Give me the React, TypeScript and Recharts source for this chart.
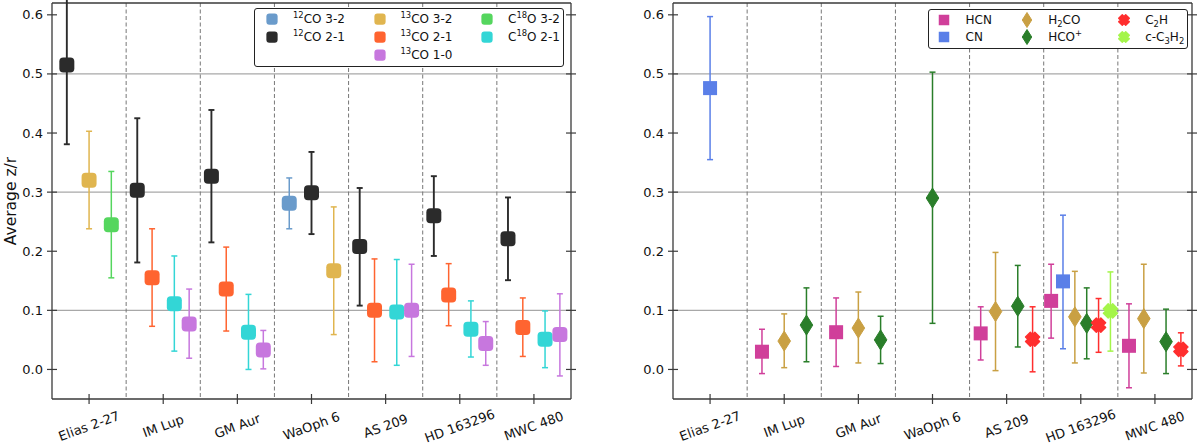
import React from "react";
import {
  ComposedChart,
  Scatter,
  ErrorBar,
  XAxis,
  YAxis,
  CartesianGrid,
  ReferenceLine,
  Legend,
} from "recharts";

const SOURCES = ["Elias 2-27", "IM Lup", "GM Aur", "WaOph 6", "AS 209", "HD 163296", "MWC 480"];
const X_TICKS = [0, 1, 2, 3, 4, 5, 6];
const Y_TICKS = [0, 0.1, 0.2, 0.3, 0.4, 0.5, 0.6];
const GRID_Y = [0.1, 0.3, 0.5];
const DIVIDERS = [0.5, 1.5, 2.5, 3.5, 4.5, 5.5];

type V = (number | null)[];

// CO isotopologues (value, lower end, upper end of error bar)
const co12_32: V = [null, null, null, 0.281, null, null, null];
const co12_32Lo: V = [null, null, null, 0.238, null, null, null];
const co12_32Hi: V = [null, null, null, 0.324, null, null, null];

const co12_21: V = [0.515, 0.303, 0.327, 0.299, 0.208, 0.26, 0.221];
const co12_21Lo: V = [0.381, 0.181, 0.215, 0.229, 0.108, 0.192, 0.151];
const co12_21Hi: V = [0.65, 0.425, 0.439, 0.368, 0.307, 0.327, 0.291];

const co13_32: V = [0.32, null, null, 0.167, null, null, null];
const co13_32Lo: V = [0.238, null, null, 0.059, null, null, null];
const co13_32Hi: V = [0.403, null, null, 0.275, null, null, null];

const co13_21: V = [null, 0.155, 0.136, null, 0.1, 0.126, 0.071];
const co13_21Lo: V = [null, 0.073, 0.065, null, 0.013, 0.074, 0.022];
const co13_21Hi: V = [null, 0.238, 0.207, null, 0.187, 0.179, 0.121];

const co13_10: V = [null, 0.077, 0.033, null, 0.1, 0.044, 0.059];
const co13_10Lo: V = [null, 0.019, 0.001, null, 0.022, 0.007, -0.011];
const co13_10Hi: V = [null, 0.136, 0.066, null, 0.178, 0.081, 0.128];

const c18o_32: V = [0.245, null, null, null, null, null, null];
const c18o_32Lo: V = [0.155, null, null, null, null, null, null];
const c18o_32Hi: V = [0.335, null, null, null, null, null, null];

const c18o_21: V = [null, 0.111, 0.063, null, 0.097, 0.068, 0.051];
const c18o_21Lo: V = [null, 0.031, 0.0, null, 0.007, 0.021, 0.003];
const c18o_21Hi: V = [null, 0.192, 0.127, null, 0.186, 0.116, 0.099];

// other molecules
const hcn: V = [null, 0.03, 0.063, null, 0.061, 0.116, 0.04];
const hcnLo: V = [null, -0.007, 0.005, null, 0.016, 0.053, -0.031];
const hcnHi: V = [null, 0.068, 0.121, null, 0.106, 0.178, 0.111];

const cn: V = [0.476, null, null, null, null, 0.149, null];
const cnLo: V = [0.355, null, null, null, null, 0.035, null];
const cnHi: V = [0.597, null, null, null, null, 0.261, null];

const h2co: V = [null, 0.048, 0.07, null, 0.098, 0.089, 0.086];
const h2coLo: V = [null, 0.003, 0.011, null, -0.002, 0.011, -0.006];
const h2coHi: V = [null, 0.094, 0.131, null, 0.198, 0.166, 0.178];

const hcop: V = [null, 0.075, 0.05, 0.29, 0.107, 0.078, 0.047];
const hcopLo: V = [null, 0.013, 0.01, 0.078, 0.038, 0.018, -0.007];
const hcopHi: V = [null, 0.138, 0.09, 0.503, 0.176, 0.138, 0.102];

const c2h: V = [null, null, null, null, 0.051, 0.075, 0.034];
const c2hLo: V = [null, null, null, null, -0.004, 0.029, 0.006];
const c2hHi: V = [null, null, null, null, 0.106, 0.12, 0.062];

const c3h2: V = [null, null, null, null, null, 0.099, null];
const c3h2Lo: V = [null, null, null, null, null, 0.031, null];
const c3h2Hi: V = [null, null, null, null, null, 0.165, null];

// side-by-side spread of the points inside one source
const DODGE: Record<number, number[]> = {
  1: [0],
  2: [-0.15, 0.15],
  3: [-0.3, 0, 0.3],
  4: [-0.35, -0.15, 0.15, 0.35],
  6: [-0.4, -0.24, -0.08, 0.08, 0.24, 0.4],
};

const AXIS = "#3a3a3a";
const FONT = "'DejaVu Sans', sans-serif";

type Shape = "round" | "square" | "diamond" | "cross";
type Series = {
  key: string;
  label: React.ReactNode;
  color: string;
  shape: Shape;
  val: V;
  lo: V;
  hi: V;
  col: number;
  row: number;
  lw?: number;
};

const sup = (t: string) => <sup style={{ fontSize: "0.7em", lineHeight: 0 }}>{t}</sup>;
const sub = (t: string) => <sub style={{ fontSize: "0.7em", lineHeight: 0 }}>{t}</sub>;

// order = order of points inside each source
const leftSeries: Series[] = [
  { key: "a", label: <>{sup("12")}CO 3-2</>, color: "#6a9bcb", shape: "round", val: co12_32, lo: co12_32Lo, hi: co12_32Hi, col: 0, row: 0 },
  { key: "b", label: <>{sup("12")}CO 2-1</>, color: "#2b2b2b", shape: "round", val: co12_21, lo: co12_21Lo, hi: co12_21Hi, col: 0, row: 1, lw: 1.9 },
  { key: "c", label: <>{sup("13")}CO 3-2</>, color: "#e0b54f", shape: "round", val: co13_32, lo: co13_32Lo, hi: co13_32Hi, col: 1, row: 0 },
  { key: "d", label: <>{sup("13")}CO 2-1</>, color: "#ff6430", shape: "round", val: co13_21, lo: co13_21Lo, hi: co13_21Hi, col: 1, row: 1 },
  { key: "f", label: <>C{sup("18")}O 3-2</>, color: "#55d65e", shape: "round", val: c18o_32, lo: c18o_32Lo, hi: c18o_32Hi, col: 2, row: 0 },
  { key: "g", label: <>C{sup("18")}O 2-1</>, color: "#33d6d6", shape: "round", val: c18o_21, lo: c18o_21Lo, hi: c18o_21Hi, col: 2, row: 1 },
  { key: "e", label: <>{sup("13")}CO 1-0</>, color: "#c777de", shape: "round", val: co13_10, lo: co13_10Lo, hi: co13_10Hi, col: 1, row: 2 },
];

const rightSeries: Series[] = [
  { key: "a", label: "HCN", color: "#d03f9a", shape: "square", val: hcn, lo: hcnLo, hi: hcnHi, col: 0, row: 0 },
  { key: "b", label: "CN", color: "#5a7fe8", shape: "square", val: cn, lo: cnLo, hi: cnHi, col: 0, row: 1 },
  { key: "c", label: <>H{sub("2")}CO</>, color: "#c9a043", shape: "diamond", val: h2co, lo: h2coLo, hi: h2coHi, col: 1, row: 0 },
  { key: "d", label: <>HCO{sup("+")}</>, color: "#2a7e2a", shape: "diamond", val: hcop, lo: hcopLo, hi: hcopHi, col: 1, row: 1 },
  { key: "e", label: <>C{sub("2")}H</>, color: "#ff2e2e", shape: "cross", val: c2h, lo: c2hLo, hi: c2hHi, col: 2, row: 0 },
  { key: "f", label: <>c-C{sub("3")}H{sub("2")}</>, color: "#a4f54a", shape: "cross", val: c3h2, lo: c3h2Lo, hi: c3h2Hi, col: 2, row: 1 },
];

function buildRows(series: Series[]) {
  const out: Record<string, { x: number; y: number; err: number[] }[]> = {};
  series.forEach((s) => (out[s.key] = []));
  SOURCES.forEach((_, i) => {
    const present = series.filter((s) => s.val[i] != null);
    const offs = DODGE[present.length] || [];
    present.forEach((s, j) => {
      const v = s.val[i] as number;
      out[s.key].push({ x: i + offs[j], y: v, err: [v - (s.lo[i] as number), (s.hi[i] as number) - v] });
    });
  });
  return out;
}

function crossPath(cx: number, cy: number, s: number, w: number) {
  const pts = [
    [-w, -s], [w, -s], [w, -w], [s, -w], [s, w], [w, w],
    [w, s], [-w, s], [-w, w], [-s, w], [-s, -w], [-w, -w],
  ];
  const c = Math.SQRT1_2;
  return (
    pts
      .map(([x, y], i) => `${i ? "L" : "M"}${cx + (x - y) * c},${cy + (x + y) * c}`)
      .join(" ") + " Z"
  );
}

function Marker({ shape, cx, cy, color, big }: { shape: Shape; cx: number; cy: number; color: string; big: boolean }) {
  const k = big ? 1 : 0.75;
  if (shape === "round") {
    const h = 7.5 * k;
    return <rect x={cx - h} y={cy - h} width={2 * h} height={2 * h} rx={4 * k} fill={color} />;
  }
  if (shape === "square") {
    const h = 7 * k;
    return <rect x={cx - h} y={cy - h} width={2 * h} height={2 * h} fill={color} />;
  }
  if (shape === "diamond") {
    const w = 6.3 * k;
    const h = 10 * k;
    return (
      <path
        d={`M${cx},${cy - h} L${cx + w},${cy} L${cx},${cy + h} L${cx - w},${cy} Z`}
        fill={color}
        stroke={color}
        strokeLinejoin="round"
        strokeWidth={1}
      />
    );
  }
  return (
    <path
      d={crossPath(cx, cy, 6.6 * k, 3.4 * k)}
      fill={color}
      stroke={color}
      strokeWidth={1.4}
      strokeLinejoin="round"
    />
  );
}

const XTick = (p: any) => {
  const ay = p.y - 5;
  const ty = ay + 27;
  return (
    <g>
      <line x1={p.x} x2={p.x} y1={ay - 5} y2={ay + 5} stroke={AXIS} strokeWidth={1.2} />
      <text
        x={p.x}
        y={ty}
        transform={`rotate(-20 ${p.x} ${ty})`}
        textAnchor="middle"
        dominantBaseline="central"
        fontSize={13}
        fill="#111"
      >
        {SOURCES[p.payload.value]}
      </text>
    </g>
  );
};

const YTickLeft = (p: any) => {
  const ax = p.x + 9;
  return (
    <g>
      <line x1={ax - 5} x2={ax + 5} y1={p.y} y2={p.y} stroke={AXIS} strokeWidth={1.2} />
      <text x={p.x} y={p.y} textAnchor="end" dominantBaseline="central" fontSize={13} fill="#111">
        {Number(p.payload.value).toFixed(1)}
      </text>
    </g>
  );
};

const YTickRight = (p: any) => {
  const ax = p.x - 5;
  return <line x1={ax - 5} x2={ax + 5} y1={p.y} y2={p.y} stroke={AXIS} strokeWidth={1.2} />;
};

function LegendBox({ series, w, h, cols, textGap, rows }: { series: Series[]; w: number; h: number; cols: number[]; textGap: number; rows: number[] }) {
  return (
    <div
      style={{
        position: "relative",
        width: w,
        height: h,
        boxSizing: "border-box",
        border: "1.4px solid #222",
        borderRadius: 3,
        background: "#fff",
        fontFamily: FONT,
        fontSize: 12,
        color: "#111",
      }}
    >
      {series.map((s) => (
        <div key={s.key}>
          <svg
            width={20}
            height={20}
            style={{ position: "absolute", left: cols[s.col] - 10, top: rows[s.row] - 10 }}
          >
            <Marker shape={s.shape} cx={10} cy={10} color={s.color} big={false} />
          </svg>
          <div
            style={{
              position: "absolute",
              left: cols[s.col] + textGap,
              top: rows[s.row] - 8,
              lineHeight: "16px",
              whiteSpace: "nowrap",
            }}
          >
            {s.label}
          </div>
        </div>
      ))}
    </div>
  );
}

function Panel({
  series,
  margin,
  legend,
  yLabel,
}: {
  series: Series[];
  margin: { top: number; right: number; bottom: number; left: number };
  legend: React.ReactNode;
  yLabel: boolean;
}) {
  const rows = buildRows(series);
  return (
    <ComposedChart width={600} height={446} margin={margin}>
      <CartesianGrid vertical={false} horizontalValues={GRID_Y} stroke="#a8a8a8" strokeWidth={1.2} />
      <CartesianGrid horizontal={false} verticalValues={DIVIDERS} stroke="#777" strokeWidth={1} strokeDasharray="4 2.5" />
      <XAxis
        type="number"
        dataKey="x"
        domain={[-0.5, 6.5]}
        ticks={X_TICKS}
        interval={0}
        allowDataOverflow
        height={46}
        tickSize={5}
        tickMargin={0}
        tickLine={false}
        tick={XTick}
        axisLine={{ stroke: AXIS, strokeWidth: 1.3 }}
      />
      <YAxis
        type="number"
        domain={[-0.05, 0.62]}
        ticks={Y_TICKS}
        interval={0}
        allowDataOverflow
        width={40}
        tickSize={5}
        tickMargin={4}
        tickLine={false}
        tick={YTickLeft}
        axisLine={{ stroke: AXIS, strokeWidth: 1.3 }}
        label={
          yLabel
            ? {
                content: (lp: any) => {
                  const vb = lp.viewBox || { x: 12, y: 3, height: 396 };
                  const x = vb.x - 1;
                  const y = vb.y + vb.height / 2;
                  return (
                    <text
                      x={x}
                      y={y}
                      transform={`rotate(-90 ${x} ${y})`}
                      textAnchor="middle"
                      dominantBaseline="central"
                      fontSize={15.5}
                      fill="#111"
                    >
                      Average z/r
                    </text>
                  );
                },
              }
            : undefined
        }
      />
      <YAxis
        yAxisId="r"
        orientation="right"
        type="number"
        domain={[-0.05, 0.62]}
        ticks={Y_TICKS}
        interval={0}
        allowDataOverflow
        width={1}
        tickSize={5}
        tickMargin={0}
        tickLine={false}
        tick={YTickRight}
        axisLine={{ stroke: AXIS, strokeWidth: 1.3 }}
      />
      <ReferenceLine y={0.62} stroke={AXIS} strokeWidth={1.3} />
      {series.map((s) => (
        <Scatter
          key={s.key}
          data={rows[s.key]}
          dataKey="y"
          isAnimationActive={false}
          fill={s.color}
          shape={(p: any) => <Marker shape={s.shape} cx={p.cx} cy={p.cy} color={s.color} big />}
        >
          <ErrorBar
            dataKey="err"
            direction="y"
            width={3}
            stroke={s.color}
            strokeWidth={s.lw ?? 1.5}
            isAnimationActive={false}
          />
        </Scatter>
      ))}
      {legend}
    </ComposedChart>
  );
}

export default function App() {
  return (
    <div
      style={{
        position: "absolute",
        left: 0,
        top: 0,
        width: 1200,
        height: 446,
        display: "flex",
        background: "#fff",
        fontFamily: FONT,
      }}
    >
      <Panel
        series={leftSeries}
        yLabel
        margin={{ top: 3, right: 28, bottom: 1, left: 12 }}
        legend={
          <Legend
            layout="vertical"
            align="center"
            verticalAlign="middle"
            wrapperStyle={{ left: 254, top: 8, width: 310, height: 59 }}
            content={() => (
              <LegendBox series={leftSeries} w={310} h={59} cols={[17, 124.5, 232]} textGap={21} rows={[10, 28.3, 46]} />
            )}
          />
        }
      />
      <Panel
        series={rightSeries}
        yLabel={false}
        margin={{ top: 3, right: 7, bottom: 1, left: 33 }}
        legend={
          <Legend
            layout="vertical"
            align="center"
            verticalAlign="middle"
            wrapperStyle={{ left: 328, top: 9, width: 260, height: 40 }}
            content={() => (
              <LegendBox series={rightSeries} w={260} h={40} cols={[15, 97.7, 194.7]} textGap={21.5} rows={[9.5, 27]} />
            )}
          />
        }
      />
    </div>
  );
}
